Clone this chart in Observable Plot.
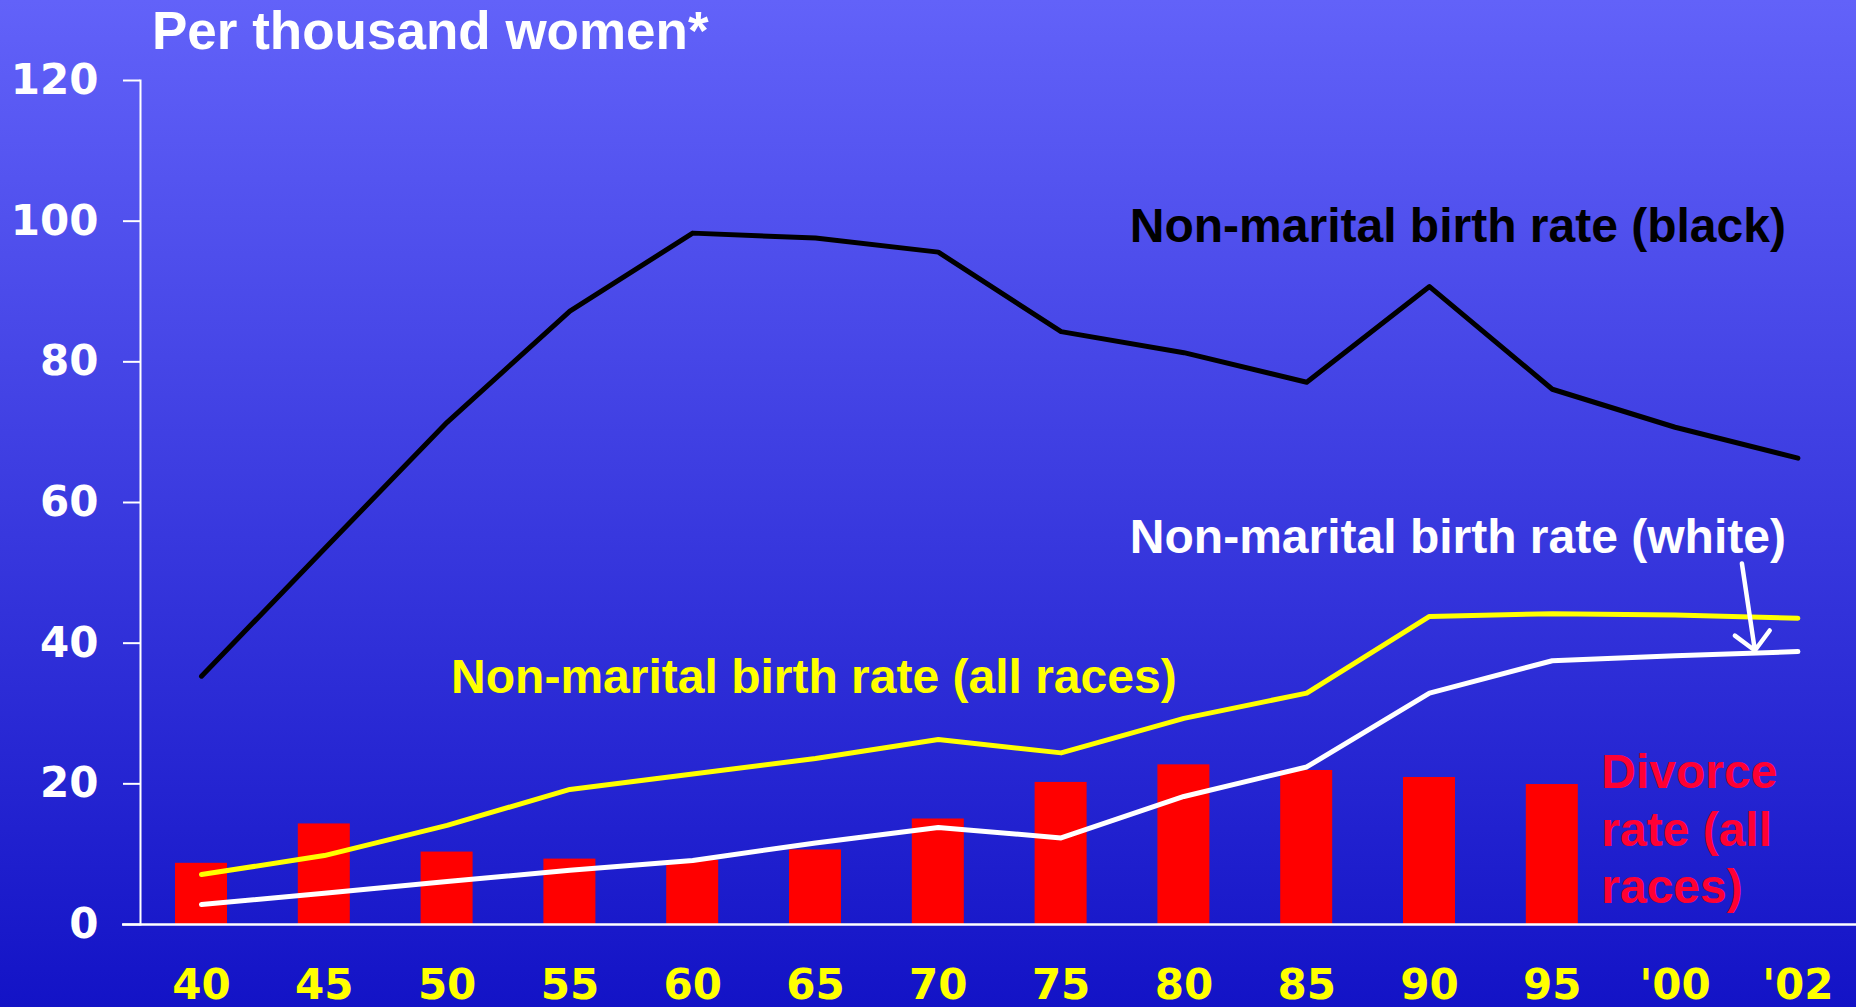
<!DOCTYPE html>
<html><head><meta charset="utf-8">
<script src="https://cdn.jsdelivr.net/npm/d3@7"></script>
<script src="https://cdn.jsdelivr.net/npm/@observablehq/plot@0.6"></script>
<style>
html,body{margin:0;padding:0;width:1856px;height:1007px;overflow:hidden;background:linear-gradient(to bottom,#6262F9 0%,#1313C6 100%);}
#title{height:60px;line-height:60px;padding-left:152px;font:bold 53px "Liberation Sans",Arial,sans-serif;color:#fff;white-space:nowrap;}
#chart svg{display:block;}
</style></head><body>
<div id="title">Per thousand women*</div>
<div id="chart"></div>
<script>
const years = ["40","45","50","55","60","65","70","75","80","85","90","95","'00","'02"];
const blackRate = [35.3, 53.4, 71.4, 87.2, 98.3, 97.6, 95.6, 84.3, 81.3, 77.1, 90.7, 76.1, 70.7, 66.3];
const allRacesRate = [7.1, 9.8, 14.1, 19.2, 21.4, 23.6, 26.3, 24.4, 29.3, 32.9, 43.8, 44.2, 44.0, 43.55];
const whiteRate = [2.85, 4.45, 6.1, 7.7, 9.1, 11.6, 13.8, 12.3, 18.2, 22.4, 32.9, 37.5, 38.2, 38.8];
const divorceRate = [8.7, 14.3, 10.3, 9.3, 9.1, 10.6, 15.0, 20.2, 22.7, 21.9, 20.9, 19.9, null, null];
const yTicks = [0, 20, 40, 60, 80, 100, 120];

const labelBlack = "Non-marital birth rate (black)";
const labelWhite = "Non-marital birth rate (white)";
const labelAll = "Non-marital birth rate (all races)";
const labelDivorce = "Divorce\nrate (all\nraces)";

const rows = years.map((year, i) => ({
  year, black: blackRate[i], all: allRacesRate[i], white: whiteRate[i], divorce: divorceRate[i]
}));

const labelFont = {fontSize: 48, fontWeight: "bold", fontFamily: "Liberation Sans, Arial, sans-serif", lineAnchor: "bottom"};
const axisFont = {fontSize: 42, fontWeight: "bold", fontFamily: "DejaVu Sans, sans-serif"};

const chart = Plot.plot({
  width: 1856,
  height: 947,
  marginLeft: 140,
  marginRight: 0,
  marginTop: 20,
  marginBottom: 83,
  style: {background: "transparent", overflow: "visible"},
  x: {type: "band", domain: years, padding: 0, round: false, range: [139.6, 1858.8]},
  y: {domain: [0, 120]},
  marks: [
    Plot.barY(rows.filter(d => d.divorce != null), {x: "year", y: "divorce", fill: "#FF0000", insetLeft: 35.4, insetRight: 35.4}),
    Plot.line(rows, {x: "year", y: "black", stroke: "#000000", strokeWidth: 5}),
    Plot.line(rows, {x: "year", y: "all", stroke: "#FFFF00", strokeWidth: 5}),
    Plot.line(rows, {x: "year", y: "white", stroke: "#FFFFFF", strokeWidth: 5}),
    Plot.ruleY([0], {stroke: "white", strokeWidth: 2.5, insetLeft: -18}),
    Plot.frame({anchor: "left", stroke: "white", strokeWidth: 2}),
    Plot.axisY({ticks: yTicks, tickSize: 17, tickPadding: 25, color: "white", stroke: "white", strokeWidth: 2, label: null, ...axisFont}),
    Plot.axisX({tickSize: 0, tickPadding: 45, color: "#FFFF00", fill: "#FFFF00", label: null, ...axisFont}),
    Plot.text([{x: "'02", y: 97.1, t: labelBlack}], {x: "x", y: "y", text: "t", fill: "#000000", textAnchor: "end", dx: -12, ...labelFont}),
    Plot.text([{x: "'02", y: 52.75, t: labelWhite}], {x: "x", y: "y", text: "t", fill: "#FFFFFF", textAnchor: "end", dx: -12, ...labelFont}),
    Plot.text([{x: "50", y: 32.85, t: labelAll}], {x: "x", y: "y", text: "t", fill: "#FFFF00", textAnchor: "start", dx: 4, ...labelFont}),
    Plot.text([{x: "95", y: 3.0, t: labelDivorce}], {x: "x", y: "y", text: "t", fill: "#FF0033", textAnchor: "start", dx: 49, lineHeight: 1.2, ...labelFont}),
    Plot.vector([{x: "'02", y: 38.96}], {x: "x", y: "y", length: 88, rotate: 171.5, anchor: "end", shape: "arrow", stroke: "#FFFFFF", strokeWidth: 4.5, dx: -43})
  ]
});
document.getElementById("chart").appendChild(chart);
</script>
</body></html>
